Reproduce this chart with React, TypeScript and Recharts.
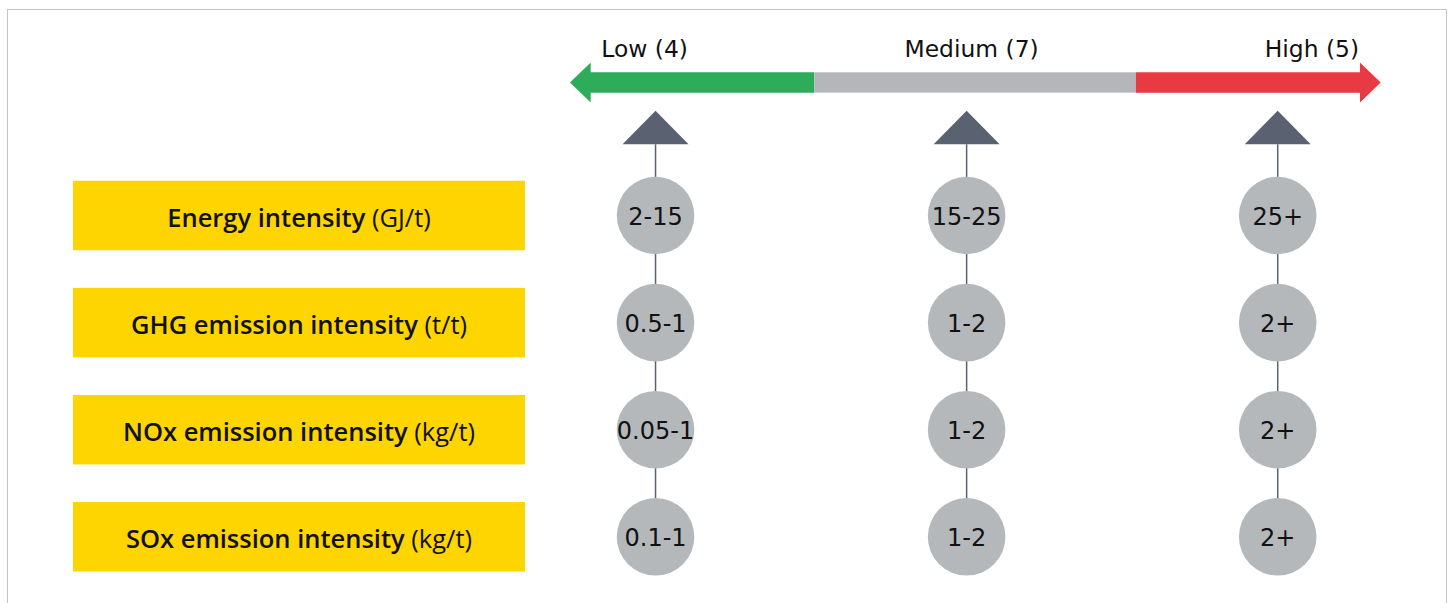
import { ScatterChart, Scatter, XAxis, YAxis, ReferenceArea } from "recharts";

const rowNames = ["Energy intensity", "GHG emission intensity", "NOx emission intensity", "SOx emission intensity"];
const rowUnits = ["(GJ/t)", "(t/t)", "(kg/t)", "(kg/t)"];
const levelNames = ["Low", "Medium", "High"];
const levelCounts = [4, 7, 5];
const lowRanges = ["2-15", "0.5-1", "0.05-1", "0.1-1"];
const mediumRanges = ["15-25", "1-2", "1-2", "1-2"];
const highRanges = ["25+", "2+", "2+", "2+"];

// layout (in axis units)
const TRI_Y = 0.335;
const LABEL_Y = -0.483;
const BAR_TOP = -0.337;
const BAR_BOTTOM = -0.147;
const labelX = [0.965, 2.016, 3.11];
const bandEdges = [0.725, 1.51, 2.544, 3.331];

const ink = "#5a6170";
const bandColors = ["#2dad5a", "#b4b6b9", "#e83a42"];

const columns = [lowRanges, mediumRanges, highRanges].map((ranges, li) => [
  { x: li + 1, y: TRI_Y, kind: "tri", label: "" },
  ...ranges.map((r, ri) => ({ x: li + 1, y: ri + 1, kind: "dot", label: r })),
]);

const headerData = levelNames.map((n, i) => ({ x: labelX[i], y: LABEL_Y, label: `${n} (${levelCounts[i]})` }));

const BOX_LEFT = 73;
const BOX_W = 452;
const BOX_H = 69.5;

const RowTick = (props: any) => {
  const { y, payload } = props;
  const i = Math.round(payload.value) - 1;
  if (i < 0 || i >= rowNames.length) return null;
  return (
    <g>
      <rect x={BOX_LEFT} y={y - BOX_H / 2} width={BOX_W} height={BOX_H} fill="#ffd500" />
      <text x={BOX_LEFT + BOX_W / 2} y={y + 11} textAnchor="middle" fontFamily="Open Sans" fontSize={25.5} fill="#111">
        <tspan fontWeight={600}>{rowNames[i] + " "}</tspan>
        <tspan fontWeight={400}>{rowUnits[i]}</tspan>
      </text>
    </g>
  );
};

const ColumnShape = (props: any) => {
  const { cx, cy, payload } = props;
  if (payload.kind === "tri") {
    return <polygon points={`${cx - 33},${cy} ${cx + 33},${cy} ${cx},${cy - 33.6}`} fill={ink} />;
  }
  return (
    <g>
      <circle cx={cx} cy={cy} r={38.8} fill="#b5b8bb" />
      <text x={cx} y={cy + 9} textAnchor="middle" fontFamily="DejaVu Sans" fontSize={24} fill="#111">
        {payload.label}
      </text>
    </g>
  );
};

const HeaderShape = (props: any) => (
  <text x={props.cx} y={props.cy} textAnchor="middle" fontFamily="DejaVu Sans" fontSize={23.4} fill="#111">
    {props.payload.label}
  </text>
);

const bandShape = (i: number) => (props: any) => {
  const { x, y, width, height } = props;
  const cy = y + height / 2;
  const head = 20.7;
  const half = 20;
  const c = bandColors[i];
  if (i === 0) {
    return (
      <polygon
        points={`${x},${cy} ${x + head},${cy - half} ${x + head},${y} ${x + width},${y} ${x + width},${y + height} ${x + head},${y + height} ${x + head},${cy + half}`}
        fill={c}
      />
    );
  }
  if (i === bandColors.length - 1) {
    const r = x + width;
    return (
      <polygon
        points={`${x},${y} ${r - head},${y} ${r - head},${cy - half} ${r},${cy} ${r - head},${cy + half} ${r - head},${y + height} ${x},${y + height}`}
        fill={c}
      />
    );
  }
  return <rect x={x} y={y} width={width} height={height} fill={c} />;
};

export default function App() {
  return (
    <div style={{ position: "absolute", left: 0, top: 0, width: 1454, height: 603, background: "#fff", overflow: "hidden" }}>
      <div
        style={{
          position: "absolute",
          left: 7,
          top: 9,
          width: 1438,
          height: 620,
          border: "1px solid #c4c4c4",
        }}
      />
      <div style={{ position: "absolute", left: 0, top: 0 }}>
        <ScatterChart width={1454} height={603} margin={{ top: 1.3, right: 20.75, bottom: 12.65, left: 0 }}>
          <XAxis type="number" dataKey="x" domain={[0.5, 3.5]} allowDataOverflow hide />
          <YAxis
            type="number"
            dataKey="y"
            domain={[-1, 4.5]}
            allowDataOverflow
            reversed
            width={500}
            ticks={[1, 2, 3, 4]}
            axisLine={false}
            tickLine={false}
            tick={<RowTick />}
          />
          {bandColors.map((c, i) => (
            <ReferenceArea
              key={c}
              x1={bandEdges[i]}
              x2={bandEdges[i + 1]}
              y1={BAR_TOP}
              y2={BAR_BOTTOM}
              shape={bandShape(i)}
            />
          ))}
          <Scatter data={headerData} shape={<HeaderShape />} isAnimationActive={false} />
          {columns.map((col, i) => (
            <Scatter
              key={levelNames[i]}
              data={col}
              line={{ stroke: ink, strokeWidth: 1.5 }}
              shape={<ColumnShape />}
              isAnimationActive={false}
            />
          ))}
        </ScatterChart>
      </div>
    </div>
  );
}
